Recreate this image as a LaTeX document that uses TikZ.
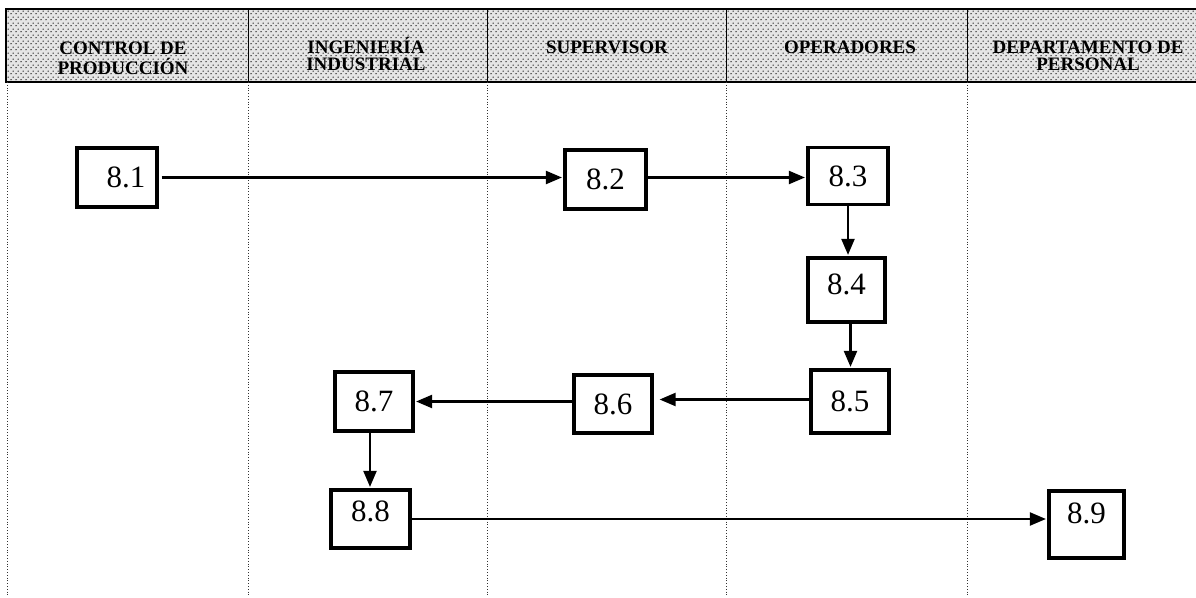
\documentclass[tikz,border=0pt]{standalone}
\usepackage{fontspec}
\setmainfont{Liberation Serif}
\usetikzlibrary{arrows.meta,patterns.meta}
% staggered dot screen for the title band
\pgfdeclarepattern{
  name=bandscreen, type=uncolored,
  bottom left={\pgfpointorigin}, top right={\pgfpoint{5pt}{6pt}},
  tile size={\pgfpoint{5pt}{6pt}},
  code={
    \pgfpathcircle{\pgfpoint{1.25pt}{1.5pt}}{0.8pt}
    \pgfpathcircle{\pgfpoint{3.75pt}{4.5pt}}{0.8pt}
    \pgfusepath{fill}
  }}
\begin{document}
\begin{tikzpicture}[x=1pt,y=-1pt,
  stepbox/.style={draw, line width=3.2pt, inner sep=0pt, font=\fontsize{31}{31}\selectfont},
  flow/.style={line width=2.2pt, -{Triangle[length=16pt,width=13pt]}, shorten >=1.5pt},
  lane/.style={dotted, line width=0.8pt, black!80},
  head/.style={anchor=base, inner sep=0pt, font=\bfseries\fontsize{19}{15}\selectfont}]
\useasboundingbox (0,0) rectangle (1196,597);
\fill[white] (0,0) rectangle (1196,597);
% header band with the five departments
\fill[black!10] (6,9) rectangle (1196,82);
\path[pattern=bandscreen, pattern color=black] (6,9) rectangle (1196,82);
\draw[line width=1.3pt] (1196,9) -- (6,9) -- (6,82) -- (1196,82);
\foreach \x in {248,487,726,967} \draw[line width=1pt] (\x,9) -- (\x,82);
% lane separators
\foreach \x in {7,248,487,726,967} \draw[lane] (\x,82) -- (\x,597);
% department titles
\node[head] (h1) at (123,54) {\begin{tabular}[t]{@{}c@{}}CONTROL DE\\PRODUCCIÓN\end{tabular}};
\node[head] (h2) at (366,53) {\begin{tabular}[t]{@{}c@{}}INGENIERÍA\\INDUSTRIAL\end{tabular}};
\node[head] (h3) at (607,53) {SUPERVISOR};
\node[head] (h4) at (850,53) {OPERADORES};
\node[head] (h5) at (1088,53) {\begin{tabular}[t]{@{}c@{}}DEPARTAMENTO DE\\PERSONAL\end{tabular}};
% steps
\node[stepbox, minimum width=80pt, minimum height=59pt] (b1) at (117,177.5) {\hspace*{18pt}8.1};
\node[stepbox, minimum width=81pt, minimum height=59pt] (b2) at (605.5,179.5) {8.2};
\node[stepbox, minimum width=80pt, minimum height=57pt] (b3) at (848,176) {8.3};
\node[stepbox, minimum width=77pt, minimum height=64pt, text height=36pt, text depth=28pt] (b4) at (846.5,290) {8.4};
\node[stepbox, minimum width=78pt, minimum height=63pt] (b5) at (850,401.5) {8.5};
\node[stepbox, minimum width=78pt, minimum height=58pt] (b6) at (613,404) {8.6};
\node[stepbox, minimum width=78pt, minimum height=59pt] (b7) at (374,401.5) {8.7};
\node[stepbox, minimum width=79pt, minimum height=58pt, text height=31pt, text depth=27pt] (b8) at (370.5,519) {8.8};
\node[stepbox, minimum width=75pt, minimum height=67pt, text height=32pt, text depth=35pt] (b9) at (1086.5,524.5) {8.9};
% flow between steps
\draw[flow, shorten <=3pt] (b1.east) -- (b1.east -| b2.west);
\draw[flow] ([yshift=2pt]b2.east) -- ([yshift=2pt]b2.east -| b3.west);
\draw[flow] (b3.south) -- (b3.south |- b4.north);
\draw[flow] ([xshift=4pt]b4.south) -- ([xshift=4pt]b4.south |- b5.north);
\draw[flow, shorten >=6pt] ([yshift=2pt]b5.west) -- ([yshift=2pt]b5.west -| b6.east);
\draw[flow] (b6.west |- b7.east) -- (b7.east);
\draw[flow] ([xshift=-4pt]b7.south) -- ([xshift=-4pt]b7.south |- b8.north);
\draw[flow] (b8.east) -- (b8.east -| b9.west);
\end{tikzpicture}
\end{document}
